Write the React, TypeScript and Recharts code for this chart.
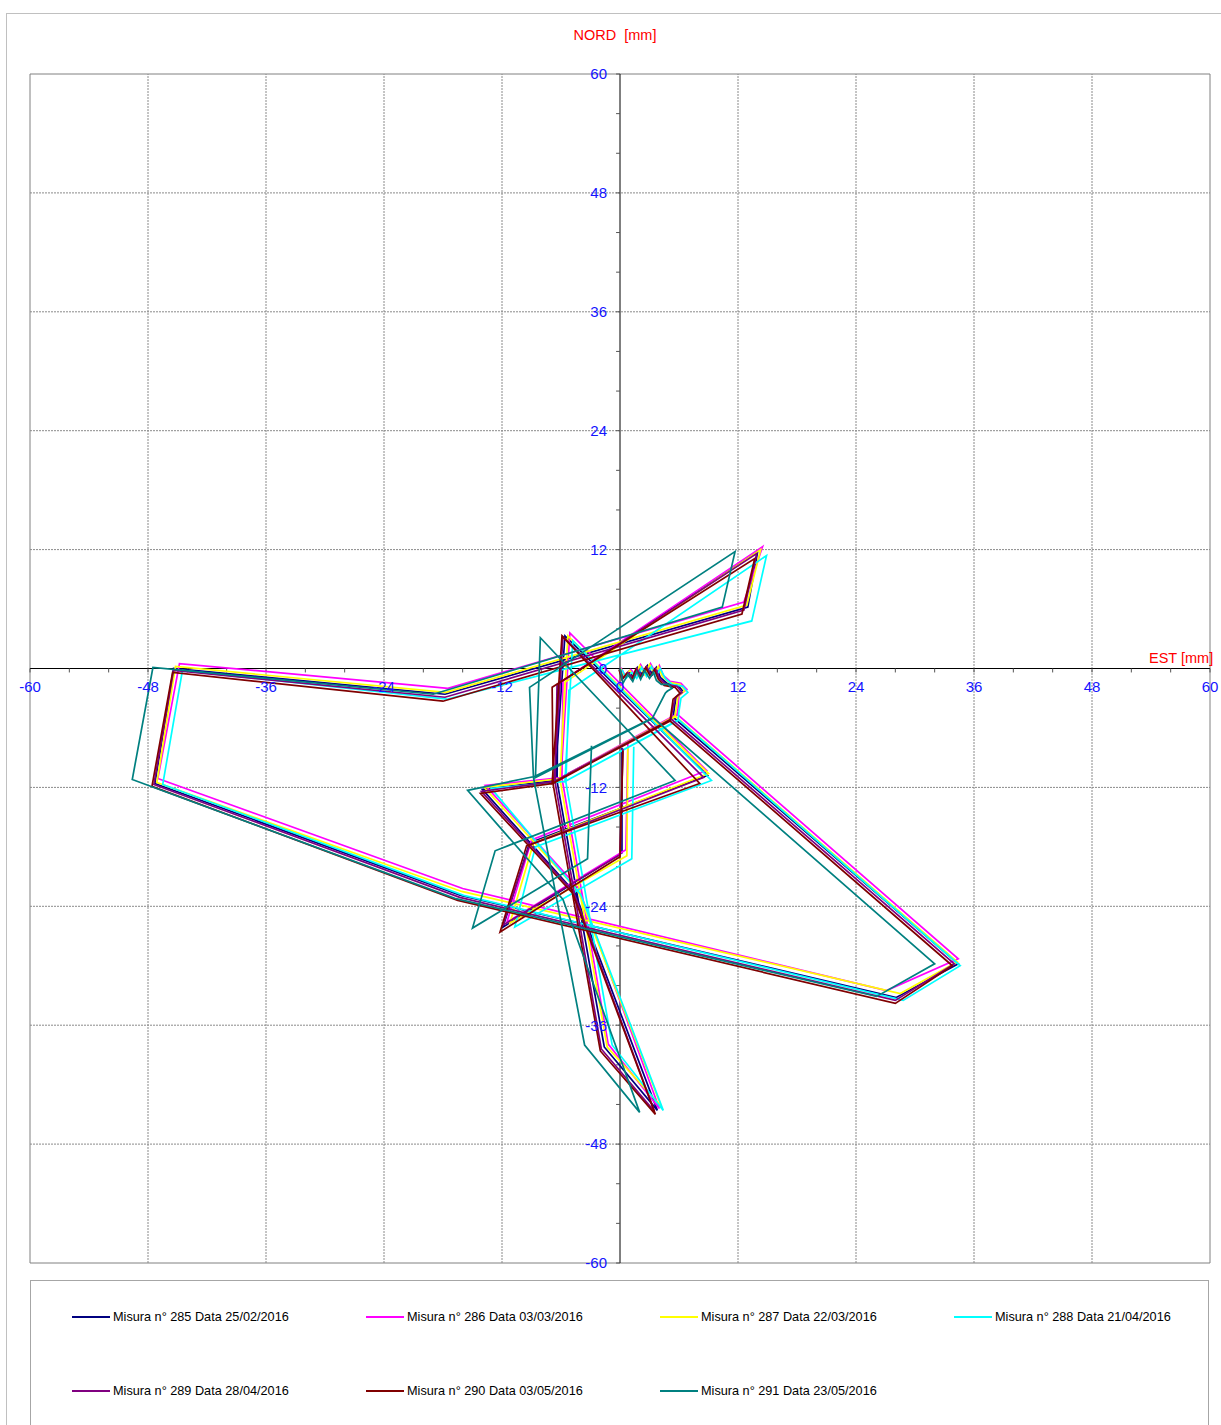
import React from "react";
import {
  ScatterChart,
  Scatter,
  XAxis,
  YAxis,
  ReferenceLine,
  ReferenceArea,
  ReferenceDot,
} from "recharts";

// axis ticks
const gridTicks = [-48, -36, -24, -12, 12, 24, 36, 48];
const labelTicks = [-60, -48, -36, -24, -12, 0, 12, 24, 36, 48, 60];
const minorTicks = [
  -60, -56, -52, -48, -44, -40, -36, -32, -28, -24, -20, -16, -12, -8, -4,
  4, 8, 12, 16, 20, 24, 28, 32, 36, 40, 44, 48, 52, 56, 60,
];

// readings [EST, NORD] in mm, one point per depth
const m285 = [
  [0, 0], [0.3, -0.9], [0.9, -0.3], [1.4, -0.9], [1.8, 0.1], [2.3, -0.7], [2.8, 0.3], [3.3, -0.6],
  [3.7, 0.1], [4.1, -0.9], [4.8, -1.5], [5.9, -1.7], [6.4, -2.3], [5.7, -2.9], [5.5, -4.2],
  [5.4, -5.0], [-6.5, -11.3], [-14.0, -12.2], [-4.6, -22.6], [3.8, -44.6], [-1.6, -38.2],
  [-6.4, -11.4], [-6.3, -1.6], [14.0, 11.8], [13.0, 6.2], [-17.8, -2.6], [-45.4, 0.0],
  [-47.3, -11.6], [-16.2, -22.9], [28.1, -33.2], [34.4, -29.8], [5.5, -5.0], [-6.6, -11.3],
  [-5.6, 3.3], [8.9, -10.8], [-9.2, -17.6], [-11.9, -26.1], [0.2, -18.6], [0.2, -8.0],
];
const m286 = [
  [0.1, 0.1], [0.5, -0.7], [1.1, -0.1], [1.6, -0.7], [2.1, 0.4], [2.6, -0.5], [3.1, 0.5], [3.6, -0.4],
  [4.0, 0.3], [4.4, -0.7], [5.1, -1.3], [6.2, -1.5], [6.8, -2.1], [6.0, -2.7], [5.9, -4.0],
  [5.8, -4.7], [-5.9, -11.0], [-13.7, -11.8], [-4.2, -22.2], [4.0, -44.4], [-1.2, -37.9],
  [-5.9, -11.1], [-5.8, -1.2], [14.5, 12.3], [12.6, 6.7], [-17.5, -2.0], [-44.8, 0.5],
  [-47.0, -11.1], [-16.0, -22.2], [27.1, -32.5], [34.4, -29.3], [5.8, -4.6], [-6.0, -11.0],
  [-5.1, 3.6], [8.8, -10.3], [-9.0, -17.3], [-11.5, -25.6], [0.6, -18.3], [0.8, -7.6],
];
const m287 = [
  [0.1, 0.0], [0.4, -0.8], [1.0, -0.2], [1.5, -0.8], [2.0, 0.3], [2.5, -0.6], [3.0, 0.4], [3.5, -0.5],
  [3.9, 0.2], [4.3, -0.8], [5.0, -1.4], [6.1, -1.6], [6.6, -2.2], [5.9, -2.8], [5.7, -4.1],
  [5.6, -4.9], [-6.0, -11.1], [-13.8, -12.0], [-4.3, -22.4], [4.2, -44.2], [-1.3, -38.2],
  [-6.1, -11.2], [-5.6, -1.4], [14.3, 12.0], [12.9, 6.4], [-17.7, -2.4], [-45.2, 0.2],
  [-47.1, -11.5], [-16.1, -22.5], [28.5, -32.8], [34.3, -29.6], [5.6, -4.8], [-6.1, -11.1],
  [-5.3, 3.3], [9.0, -10.6], [-8.8, -17.6], [-11.2, -25.7], [0.7, -18.9], [0.8, -7.9],
];
const m288 = [
  [0.2, -0.1], [0.6, -1.0], [1.2, -0.4], [1.7, -1.0], [2.2, 0.1], [2.7, -0.8], [3.2, 0.2], [3.7, -0.7],
  [4.1, 0.0], [4.6, -1.0], [5.3, -1.6], [6.4, -1.8], [6.9, -2.4], [6.2, -3.0], [6.0, -4.3],
  [5.9, -5.2], [-5.6, -11.4], [-13.1, -12.1], [-4.0, -22.8], [4.4, -44.6], [-0.8, -38.0],
  [-5.5, -11.5], [-5.2, -2.2], [14.9, 11.4], [13.4, 4.8], [-17.6, -3.1], [-44.5, -0.2],
  [-46.5, -11.7], [-15.9, -22.9], [28.8, -33.5], [34.6, -30.0], [6.0, -5.2], [-5.6, -11.4],
  [-4.8, 2.8], [9.3, -11.3], [-8.6, -18.0], [-10.7, -26.1], [1.2, -19.2], [1.4, -7.9],
];
const m289 = [
  [0, 0], [0.3, -1.0], [0.8, -0.4], [1.3, -1.0], [1.7, 0.0], [2.2, -0.8], [2.7, 0.2], [3.2, -0.7],
  [3.6, 0.0], [4.0, -1.0], [4.7, -1.6], [5.8, -1.8], [6.3, -2.4], [5.6, -3.0], [5.3, -4.4],
  [5.2, -5.1], [-6.6, -11.4], [-14.1, -12.4], [-4.7, -22.6], [3.5, -44.7], [-1.9, -38.4],
  [-6.6, -11.5], [-6.4, -1.6], [13.9, 11.6], [12.6, 5.9], [-17.8, -2.9], [-45.4, -0.2],
  [-47.4, -11.7], [-16.3, -23.1], [28.0, -33.5], [34.0, -29.8], [5.2, -5.1], [-6.7, -11.4],
  [-5.8, 3.2], [8.5, -11.0], [-9.2, -17.8], [-11.9, -25.9], [0.0, -18.8], [0.3, -8.1],
];
const m290 = [
  [-0.1, -0.1], [0.2, -1.1], [0.7, -0.5], [1.2, -1.1], [1.6, -0.1], [2.1, -0.9], [2.6, 0.1], [3.1, -0.8],
  [3.5, -0.1], [3.9, -1.1], [4.5, -1.7], [5.6, -1.9], [6.1, -2.5], [5.4, -3.1], [5.2, -4.5],
  [5.1, -5.2], [-6.8, -11.6], [-14.2, -12.6], [-4.8, -22.7], [3.6, -45.0], [-2.0, -38.6],
  [-6.8, -11.7], [-6.9, -1.9], [13.7, 11.1], [12.4, 5.5], [-18.0, -3.3], [-45.5, -0.4],
  [-47.6, -11.9], [-16.5, -23.4], [28.0, -33.8], [33.8, -30.0], [5.1, -5.3], [-6.9, -11.6],
  [-5.9, 3.3], [8.1, -11.6], [-9.5, -17.9], [-12.2, -26.6], [0.0, -19.0], [0.3, -8.3],
];
const m291 = [
  [0, 0], [0.3, -1.5], [0.8, -0.6], [1.3, -1.3], [1.7, -0.3], [2.1, -1.1], [2.5, -0.2], [3.0, -1.0],
  [3.4, -0.4], [3.7, -1.2], [4.2, -1.6], [4.9, -1.6], [5.3, -2.0], [4.8, -2.3], [4.6, -2.5],
  [3.3, -5.0], [-8.7, -10.9], [-15.5, -12.3], [-5.8, -23.3], [2.0, -44.8], [-3.6, -38.0],
  [-8.8, -11.0], [-9.2, -1.9], [11.7, 11.8], [10.4, 6.2], [-19.0, -2.6], [-47.5, 0.1],
  [-49.6, -11.2], [-16.8, -23.2], [26.1, -33.1], [32.0, -29.8], [3.4, -5.0], [-8.6, -11.0],
  [-8.1, 3.1], [5.6, -11.3], [-12.7, -18.4], [-15.0, -26.2], [-3.3, -19.2], [-2.9, -7.8],
];

const series = [
  { name: "Misura n° 285 Data 25/02/2016", color: "#000080", values: m285 },
  { name: "Misura n° 286 Data 03/03/2016", color: "#ff00ff", values: m286 },
  { name: "Misura n° 287 Data 22/03/2016", color: "#ffff00", values: m287 },
  { name: "Misura n° 288 Data 21/04/2016", color: "#00ffff", values: m288 },
  { name: "Misura n° 289 Data 28/04/2016", color: "#800080", values: m289 },
  { name: "Misura n° 290 Data 03/05/2016", color: "#800000", values: m290 },
  { name: "Misura n° 291 Data 23/05/2016", color: "#008080", values: m291 },
];

const FONT = "'Liberation Sans', Arial, sans-serif";
const NoDot = () => <g />;

export default function App() {
  return (
    <div style={{ position: "absolute", left: 0, top: 0, width: 1221, height: 1425, fontFamily: FONT }}>
      <div
        style={{
          position: "absolute", left: 6, top: 13, width: 1220, height: 1420,
          border: "1px solid #c0c0c0",
        }}
      />
      <ScatterChart
        width={1221}
        height={1425}
        margin={{ top: 74, right: 11, bottom: 162, left: 30 }}
        style={{ position: "absolute", left: 0, top: 0 }}
      >
        <XAxis type="number" dataKey="x" domain={[-60, 60]} allowDataOverflow hide />
        <YAxis type="number" dataKey="y" domain={[-60, 60]} allowDataOverflow hide />
        {gridTicks.map((v) => (
          <ReferenceLine key={"gx" + v} x={v} stroke="#8a8a8a" strokeDasharray="2 1" />
        ))}
        {gridTicks.map((v) => (
          <ReferenceLine key={"gy" + v} y={v} stroke="#8a8a8a" strokeDasharray="2 1" />
        ))}
        <ReferenceArea x1={-60} x2={60} y1={-60} y2={60} fill="none" stroke="#808080" strokeWidth={1} />
        <ReferenceLine x={0} stroke="#000" strokeWidth={1} />
        <ReferenceLine y={0} stroke="#000" strokeWidth={1} />
        {minorTicks.map((v) => (
          <ReferenceLine key={"tx" + v} segment={[{ x: v, y: 0 }, { x: v, y: -0.4 }]} stroke="#555" />
        ))}
        {minorTicks.map((v) => (
          <ReferenceLine key={"ty" + v} segment={[{ x: 0, y: v }, { x: -0.4, y: v }]} stroke="#555" />
        ))}
        {labelTicks.map((v) => (
          <ReferenceDot
            key={"lx" + v}
            x={v}
            y={0}
            r={0}
            fill="none"
            stroke="none"
            label={{ value: String(v), position: "bottom", offset: 13, fill: "#1414ff", fontSize: 15, fontFamily: FONT }}
          />
        ))}
        {labelTicks.map((v) => (
          <ReferenceDot
            key={"ly" + v}
            x={0}
            y={v}
            r={0}
            fill="none"
            stroke="none"
            label={{ value: String(v), position: "left", offset: 13, fill: "#1414ff", fontSize: 15, fontFamily: FONT }}
          />
        ))}
        {series.map((s) => (
          <Scatter
            key={s.name}
            name={s.name}
            data={s.values.map(([x, y]) => ({ x, y }))}
            fill="none"
            shape={NoDot}
            line={{ stroke: s.color, strokeWidth: 1.7 }}
            lineType="joint"
            isAnimationActive={false}
          />
        ))}
      </ScatterChart>
      <div style={{ position: "absolute", left: 560, top: 27, width: 110, textAlign: "center", color: "#ff0000", fontSize: 14.5, whiteSpace: "pre" }}>
        {"NORD  [mm]"}
      </div>
      <div style={{ position: "absolute", left: 1149, top: 650, color: "#ff0000", fontSize: 14.5, whiteSpace: "pre" }}>
        {"EST [mm]"}
      </div>
      <div
        style={{
          position: "absolute", left: 30, top: 1280, width: 1177, height: 160,
          border: "1px solid #a6a6a6",
        }}
      />
      {series.map((s, i) => {
        const left = 72 + (i % 4) * 294;
        const top = i < 4 ? 1317 : 1391;
        return (
          <div key={s.name} style={{ position: "absolute", left, top: top - 9, height: 18, display: "flex", alignItems: "center" }}>
            <div style={{ width: 38, height: 2, background: s.color }} />
            <span style={{ marginLeft: 3, fontSize: 12.7, color: "#000", whiteSpace: "nowrap" }}>{s.name}</span>
          </div>
        );
      })}
    </div>
  );
}
